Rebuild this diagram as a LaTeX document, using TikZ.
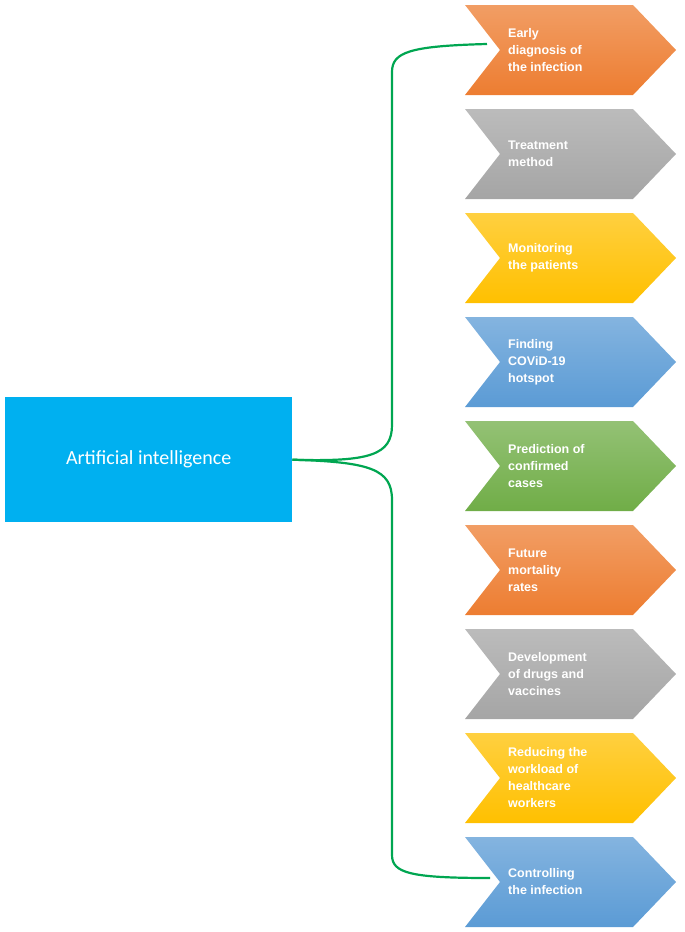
\documentclass[tikz,border=0pt]{standalone}
\usepackage{fontspec}
\setmainfont{Liberation Sans}
\newfontfamily\calib{Carlito}
\definecolor{cor}{HTML}{ED7D31}
\definecolor{cgr}{HTML}{A5A5A5}
\definecolor{cgo}{HTML}{FFC000}
\definecolor{cbl}{HTML}{5B9BD5}
\definecolor{cgn}{HTML}{70AD47}
\definecolor{brace}{HTML}{00A651}
\definecolor{boxb}{HTML}{00B0F0}
\begin{document}
\begin{tikzpicture}[x=1pt,y=-1pt,
  lbl/.style={text=white,font=\bfseries\fontsize{12.5}{17}\selectfont,align=left,anchor=west,inner sep=0pt},
  brc/.style={draw=brace,line width=2.2pt}]
\useasboundingbox (0,0) rectangle (685,932);
\node[fill=boxb,minimum width=287pt,minimum height=125pt,inner sep=0pt,anchor=north west,text=white,font=\calib\fontsize{20}{24}\selectfont] (ai) at (5,397) {Artificial intelligence};
\foreach \i/\c/\t in {1/cor/{Early\\diagnosis of\\the infection},2/cgr/{Treatment\\method},3/cgo/{Monitoring\\the patients},4/cbl/{Finding\\COViD-19\\hotspot},5/cgn/{Prediction of\\confirmed\\cases},6/cor/{Future\\mortality\\rates},7/cgr/{Development\\of drugs and\\vaccines},8/cgo/{Reducing the\\workload of\\healthcare\\workers},9/cbl/{Controlling\\the infection}}{
  \pgfmathsetmacro\yc{50+104*(\i-1)}
  \shade[top color=\c!75!white,bottom color=\c] (465,\yc-45) -- (633,\yc-45) -- (676,\yc) -- (633,\yc+45) -- (465,\yc+45) -- (500,\yc) -- cycle;
  \node[lbl] (c\i) at (508,\yc) {\t};
}
\coordinate (t1) at (487,44);
\coordinate (t9) at (490,878);
\draw[brc] (ai.east) .. controls (370,462) and (392,455) .. (392,425) -- (392,72) .. controls (392,52) and (410,46) .. (t1);
\draw[brc] (ai.east) .. controls (370,462) and (392,469) .. (392,500) -- (392,855) .. controls (392,873) and (410,878) .. (t9);
\end{tikzpicture}
\end{document}
